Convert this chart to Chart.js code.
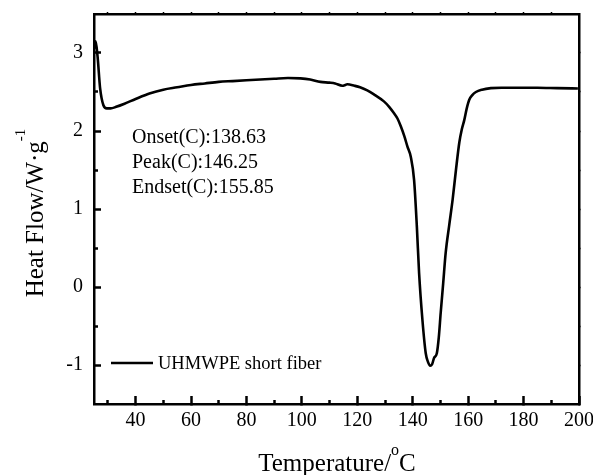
<!DOCTYPE html>
<html>
<head>
  <title>UHMWPE short fiber DSC</title>
  <script src="https://cdn.jsdelivr.net/npm/chart.js"></script>
  <style>
    body { margin: 0; background: #fff; }
    #wrap { width: 593px; height: 475px; position: relative; }
  </style>
</head>
<body>
  <div id="wrap"><canvas id="chart"></canvas></div>

  <script>
    // DSC curve
    const temperature = [25.0, 25.6, 26.3, 27.2, 28.4, 29.6, 31, 33, 36, 40, 45, 50, 55, 60, 65, 70, 75, 80, 85, 90, 95, 99.5,
      103, 106.7, 110, 112, 114.6, 115.3, 116.4, 119, 121, 123.6, 126, 129.6, 131.5, 133.2, 134.5, 135.7, 137, 138.1, 139.3,
      140.5, 141.5, 142.3, 143.5, 144.7, 145.5, 146.3, 147.0, 147.7, 148.7, 149.4, 150.1, 151.0, 151.9, 153.2, 154.4, 155.6,
      156.8, 157.7, 158.6, 159.5, 160.4, 161.5, 162.8, 165, 168.2, 172, 177, 185, 192, 199.6];
    const heatFlow = [3.05, 3.15, 2.95, 2.55, 2.33, 2.29, 2.29, 2.31, 2.35, 2.41, 2.48, 2.53, 2.56, 2.59, 2.61, 2.63, 2.64, 2.65, 2.66, 2.67, 2.68, 2.675,
      2.66, 2.63, 2.62, 2.61, 2.58, 2.585, 2.60, 2.58, 2.56, 2.52, 2.47, 2.38, 2.31, 2.23, 2.16, 2.06, 1.93, 1.80, 1.67,
      1.37, 0.77, 0.18, -0.42, -0.85, -0.96, -1.01, -0.99, -0.91, -0.85, -0.65, -0.33, 0.05, 0.44, 0.80, 1.12, 1.50,
      1.85, 2.02, 2.14, 2.29, 2.40, 2.46, 2.50, 2.53, 2.55, 2.555, 2.555, 2.555, 2.55, 2.545];

    const seriesLabel = 'UHMWPE short fiber';
    const xMajorTicks = [40, 60, 80, 100, 120, 140, 160, 180, 200];
    const xTickLabels = ['40', '60', '80', '100', '120', '140', '160', '180', '200'];
    const xMinorTicks = [30, 50, 70, 90, 110, 130, 150, 170, 190];
    const xTopTicks = [30, 40, 50, 60, 70, 80, 90, 100, 110, 120, 130, 140, 150, 160, 170, 180, 190];
    const yMajorTicks = [-1, 0, 1, 2, 3];
    const yTickLabels = ['-1', '0', '1', '2', '3'];
    const yMinorTicks = [-0.5, 0.5, 1.5, 2.5];
    const yRightTicks = [-1, -0.5, 0, 0.5, 1, 1.5, 2, 2.5, 3];
    const annotationLines = ['Onset(C):138.63', 'Peak(C):146.25', 'Endset(C):155.85'];
    const xTitleParts = [{ t: 'Temperature/' }, { t: 'o', sup: true }, { t: 'C' }];
    const yTitleParts = [{ t: 'Heat Flow/W\u00b7g' }, { t: '-1', sup: true }];

    const FONT = '"Liberation Serif", "Times New Roman", serif';
    let chart;

    function setTicks(list) {
      return scale => { scale.ticks = list.map(v => ({ value: v })); };
    }
    function fixSize(w, h) {
      return scale => {
        if (w !== null) scale.width = w;
        if (h !== null) scale.height = h;
        scale.paddingTop = 0; scale.paddingBottom = 0;
        scale.paddingLeft = 0; scale.paddingRight = 0;
      };
    }

    function drawParts(ctx, parts, cx, baseline, size, supSize, rise) {
      let total = 0;
      const widths = parts.map(p => {
        ctx.font = (p.sup ? supSize : size) + 'px ' + FONT;
        const w = ctx.measureText(p.t).width;
        total += w;
        return w;
      });
      let x = cx - total / 2;
      ctx.textAlign = 'left';
      ctx.textBaseline = 'alphabetic';
      parts.forEach((p, i) => {
        ctx.font = (p.sup ? supSize : size) + 'px ' + FONT;
        ctx.fillText(p.t, x, p.sup ? baseline - rise : baseline);
        x += widths[i];
      });
    }

    const textPlugin = {
      id: 'textPlugin',
      afterDraw(c) {
        const ctx = c.ctx;
        ctx.save();
        ctx.fillStyle = '#000';
        ctx.textAlign = 'left';
        ctx.textBaseline = 'alphabetic';
        ctx.font = '20px ' + FONT;
        annotationLines.forEach((t, i) => ctx.fillText(t, 132, 143 + i * 25));

        // legend inside the plot
        const ds = c.data.datasets[0];
        ctx.strokeStyle = ds.borderColor;
        ctx.lineWidth = ds.borderWidth;
        ctx.beginPath();
        ctx.moveTo(111, 363);
        ctx.lineTo(153, 363);
        ctx.stroke();
        ctx.font = '18.5px ' + FONT;
        ctx.fillText(ds.label, 158, 368.5);

        // axis titles
        drawParts(ctx, xTitleParts, 337, 471, 25, 16, 16);
        ctx.translate(43, 213);
        ctx.rotate(-Math.PI / 2);
        drawParts(ctx, yTitleParts, 0, 0, 25, 15, 18);
        ctx.restore();
      }
    };

    function createChart() {
      const ctx = document.getElementById('chart').getContext('2d');
      chart = new Chart(ctx, {
        type: 'line',
        data: {
          datasets: [{
            label: seriesLabel,
            data: temperature.map((t, i) => ({ x: t, y: heatFlow[i] })),
            borderColor: '#000',
            borderWidth: 2.6,
            pointRadius: 0,
            fill: false,
            cubicInterpolationMode: 'monotone'
          }]
        },
        options: {
          responsive: true,
          maintainAspectRatio: false,
          animation: false,
          layout: { padding: { top: 14, right: 14, left: 0, bottom: 0 } },
          plugins: { legend: { display: false }, tooltip: { enabled: false } },
          scales: {
            x: {
              type: 'linear', position: 'bottom', min: 25, max: 200, weight: 1,
              afterBuildTicks: setTicks(xMajorTicks),
              afterFit: fixSize(null, 71),
              ticks: { color: '#000', font: { family: FONT, size: 20 }, padding: 13, maxRotation: 0,
                callback: (v, i) => xTickLabels[i] },
              grid: { drawOnChartArea: false, tickLength: -8, tickWidth: 2.5, tickColor: '#000' },
              border: { color: '#000', width: 2.5 }
            },
            xMinor: {
              type: 'linear', position: 'bottom', min: 25, max: 200, weight: 0,
              afterBuildTicks: setTicks(xMinorTicks),
              afterFit: fixSize(null, 0),
              ticks: { display: false },
              grid: { drawOnChartArea: false, tickLength: -4, tickWidth: 2.5, tickColor: '#000' },
              border: { display: false }
            },
            xTop: {
              type: 'linear', position: 'top', min: 25, max: 200,
              afterBuildTicks: setTicks(xTopTicks),
              afterFit: fixSize(null, 0),
              ticks: { display: false },
              grid: { drawOnChartArea: false, tickLength: 2, tickWidth: 1.5, tickColor: '#000' },
              border: { color: '#000', width: 2.5 }
            },
            y: {
              type: 'linear', position: 'left', min: -1.5, max: 3.5, weight: 1,
              afterBuildTicks: setTicks(yMajorTicks),
              afterFit: fixSize(94, null),
              ticks: { color: '#000', font: { family: FONT, size: 20 }, padding: 18,
                callback: (v, i) => yTickLabels[i] },
              grid: { drawOnChartArea: false, tickLength: -7, tickWidth: 2.5, tickColor: '#000' },
              border: { color: '#000', width: 2.5 }
            },
            yMinor: {
              type: 'linear', position: 'left', min: -1.5, max: 3.5, weight: 0,
              afterBuildTicks: setTicks(yMinorTicks),
              afterFit: fixSize(0, null),
              ticks: { display: false },
              grid: { drawOnChartArea: false, tickLength: -4, tickWidth: 2.5, tickColor: '#000' },
              border: { display: false }
            },
            yRight: {
              type: 'linear', position: 'right', min: -1.5, max: 3.5,
              afterBuildTicks: setTicks(yRightTicks),
              afterFit: fixSize(0, null),
              ticks: { display: false },
              grid: { drawOnChartArea: false, tickLength: 2, tickWidth: 1.5, tickColor: '#000' },
              border: { color: '#000', width: 2.5 }
            }
          }
        },
        plugins: [textPlugin]
      });
    }

    createChart();
  </script>
</body>
</html>
